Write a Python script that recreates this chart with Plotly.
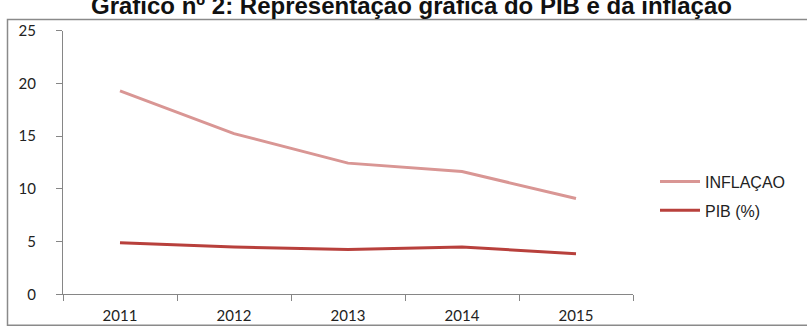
import plotly.graph_objects as go

years = ["2011", "2012", "2013", "2014", "2015"]
inflacao = [19.3, 15.25, 12.45, 11.65, 9.1]
pib = [4.9, 4.5, 4.25, 4.5, 3.85]
y_ticks = [0, 5, 10, 15, 20, 25]

W, H = 807, 327

fig = go.Figure()
fig.add_trace(go.Scatter(x=years, y=inflacao, mode="lines", name="INFLAÇAO",
                         legendgroup="a",
                         line=dict(color="#D99694", width=3)))
fig.add_trace(go.Scatter(x=years, y=pib, mode="lines", name="PIB (%)",
                         legendgroup="b",
                         line=dict(color="#B8403C", width=3)))

tick_font = dict(family="Lato, Carlito, sans-serif", size=15, color="#222")

fig.update_layout(
    width=W, height=H,
    margin=dict(l=0, r=0, t=0, b=0),
    paper_bgcolor="white", plot_bgcolor="white",
    xaxis=dict(
        domain=[63 / W, 633 / W],
        type="category", range=[-0.5, 4.5],
        tickson="boundaries", ticks="outside", ticklen=6, tickcolor="#868686",
        showline=True, linecolor="#868686", linewidth=1,
        showgrid=False, zeroline=False,
        tickfont=tick_font, ticklabelstandoff=8,
    ),
    yaxis=dict(
        domain=[(H - 301) / H, (H - 22) / H],
        range=[0, 25], tickvals=y_ticks,
        ticks="outside", ticklen=6, tickcolor="#868686",
        showline=True, linecolor="#868686", linewidth=1,
        showgrid=False, zeroline=False,
        tickfont=tick_font, ticklabelstandoff=17,
    ),
    showlegend=True,
    legend=dict(
        x=655 / W, y=(H - 197) / H, xanchor="left", yanchor="middle",
        font=dict(family="Liberation Sans, Arial, sans-serif", size=16, color="#222"),
        bgcolor="rgba(0,0,0,0)", tracegroupgap=5, itemwidth=40,
    ),
)

fig.add_shape(type="rect", xref="paper", yref="paper",
              x0=7.5 / W, x1=1.02, y0=-0.02, y1=(H - 10) / H,
              line=dict(color="#8a8a8a", width=1.5), fillcolor="rgba(0,0,0,0)")

fig.add_annotation(
    text="<b>Gráfico nº 2: Representação gráfica do PIB e da inflação</b>",
    xref="paper", yref="paper", x=411 / W, y=(H - 12) / H,
    xanchor="center", yanchor="bottom", showarrow=False,
    font=dict(family="Liberation Sans, Arial, sans-serif", size=24, color="#111"),
)

fig.write_html("out.html")
